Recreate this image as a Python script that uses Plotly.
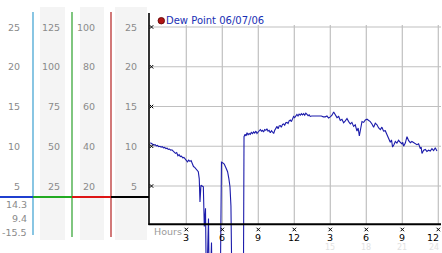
import plotly.graph_objects as go

# ---------------- data ----------------
SERIES_NAME = "Dew Point 06/07/06"
hours = [
    0.00, 0.10, 0.20, 0.30, 0.40, 0.50, 0.60, 0.70, 0.80, 0.90, 1.00, 1.10, 1.20, 1.30,
    1.40, 1.50, 1.60, 1.70, 1.80, 1.90, 2.00, 2.10, 2.20, 2.30, 2.40, 2.50, 2.60, 2.70,
    2.80, 2.90, 3.00, 3.10, 3.20, 3.30, 3.40, 3.50, 3.60, 3.70, 3.80, 3.90, 4.00,
    4.08, 4.14, 4.22, 4.42, 4.50, 4.60, 4.68, 4.85, 4.93, 5.10, 5.20, 5.50, 5.80, 5.93,
    6.05, 6.16, 6.30, 6.44, 6.55, 6.64, 6.72, 6.82, 7.30, 7.75,
    7.81, 7.90, 7.98, 8.06, 8.15, 8.24, 8.33, 8.42, 8.52, 8.61, 8.70, 8.80, 8.89, 8.98,
    9.08, 9.17, 9.26, 9.35, 9.44, 9.53, 9.63, 9.72, 9.81, 9.90, 10.00, 10.10, 10.19,
    10.28, 10.37, 10.47, 10.56, 10.65, 10.74, 10.83, 10.92, 11.02, 11.11, 11.20, 11.29,
    11.39, 11.48, 11.57, 11.67, 11.76, 11.85, 11.94, 12.03, 12.13, 12.22, 12.31, 12.40,
    12.50, 12.59, 12.68, 12.78, 12.87, 12.96, 13.06, 13.15, 13.24, 13.33, 13.45, 13.58,
    13.75, 13.92, 14.10, 14.25, 14.42, 14.58, 14.72, 14.86, 15.00, 15.14, 15.28, 15.42,
    15.56, 15.70, 15.83, 15.97, 16.11, 16.25, 16.39, 16.53, 16.67, 16.80, 16.94, 17.08,
    17.22, 17.32, 17.42, 17.53, 17.64, 17.78, 17.92, 18.06, 18.20, 18.33, 18.47, 18.61,
    18.75, 18.89, 19.03, 19.17, 19.30, 19.44, 19.58, 19.72, 19.86, 20.00, 20.10, 20.19,
    20.30, 20.42, 20.55, 20.69, 20.83, 20.97, 21.04, 21.11, 21.25, 21.39, 21.53, 21.67,
    21.80, 21.94, 22.08, 22.22, 22.36, 22.50, 22.57, 22.64, 22.78, 22.92, 23.05, 23.19,
    23.33, 23.47, 23.61, 23.75, 23.82, 23.89,
]
dew_point = [
    10.45, 10.35, 10.25, 10.15, 10.2, 10.05, 10.1, 9.95, 10.0, 9.9, 9.95, 9.8, 9.85, 9.7,
    9.75, 9.6, 9.65, 9.5, 9.55, 9.4, 9.3, 9.1, 9.2, 8.8, 8.95, 8.7, 8.75, 8.55,
    8.6, 8.45, 8.2, 8.05, 8.25, 8.1, 8.2, 7.7, 7.45, 7.35, 7.2, 7.0, 6.8,
    5.9, 3.0, 5.1, 4.9, -0.1, 2.2, -9.0, 0.9, -11.0, -2.1, -13.0, -15.5, -13.0, 8.0,
    7.9, 7.75, 7.3, 6.8, 5.9, 4.9, 2.5, -10.0, -13.0, -11.0,
    11.2, 11.5, 11.3, 11.7, 11.45, 11.6, 11.5, 11.75, 11.6, 11.8, 11.65, 11.9, 11.6, 11.85,
    11.95, 12.1, 11.9, 12.0, 11.8, 12.1, 12.0, 12.2, 11.9, 12.0, 11.7, 11.95, 11.75,
    11.6, 12.0, 12.2, 12.5, 12.2, 12.55, 12.6, 12.4, 12.75, 12.8, 12.65, 12.95,
    13.0, 12.85, 13.2, 13.3, 13.1, 13.5, 13.75, 13.6, 13.85, 14.0, 13.8, 14.05,
    13.9, 14.1, 13.95, 14.1, 13.9, 14.15, 14.0, 13.85, 13.95, 13.75, 13.8, 13.8,
    13.75, 13.75, 13.8, 13.8, 13.7, 13.7, 13.8, 13.55, 13.7, 13.9, 14.3, 13.85,
    13.6, 13.75, 13.25, 13.4, 12.95, 13.2, 13.5, 13.1, 12.8, 13.0, 12.5, 12.7,
    11.9, 12.3, 11.3, 12.2, 13.1, 13.0, 13.3, 13.4, 13.25, 13.1, 12.8, 12.4,
    12.9, 12.7, 12.3, 12.1, 12.4, 11.9, 11.95, 11.4, 11.1, 10.5, 10.8, 9.9,
    10.2, 10.6, 10.4, 10.75, 10.5, 10.3, 10.5, 10.0, 10.4, 11.2, 10.7, 10.45,
    10.6, 10.5, 10.35, 10.2, 10.3, 9.7, 9.9, 9.1, 9.5, 9.6, 9.35, 9.5,
    9.4, 9.7, 9.45, 9.8, 9.6, 9.4,
]
x_tick_vals = [3, 6, 9, 12, 15, 18, 21, 24]
x_tick_text = ["3", "6", "9", "12", "3", "6", "9", "12"]
x_24h_vals = [15, 18, 21, 24]
x_24h_text = ["15", "18", "21", "24"]
y_grid_vals = [5, 10, 15, 20, 25]
col1_labels = ["5", "10", "15", "20", "25"]
col2_labels = ["25", "50", "75", "100", "125"]
col3_labels = ["20", "40", "60", "80", "100"]
col4_labels = ["5", "10", "15", "20", "25"]

# ---------------- layout helpers ----------------
W, H = 442, 253
FONT = "DejaVu Sans"
Y0_PX, Y_PX_PER = 225.75, 7.95      # pixel of value 0, pixels per unit
X0_PX, X_PX_PER = 150.3, 12.0       # pixel of hour 0, pixels per hour


def pxx(x):
    return x / W


def pxy(y):
    return 1 - y / H


def val_at(ypix):
    return (Y0_PX - ypix) / Y_PX_PER


def hr_at(xpix):
    return (xpix - X0_PX) / X_PX_PER


y_range = [val_at(H), val_at(0)]
x_range = [hr_at(149), hr_at(W)]
x_last = max(x_tick_vals)

fig = go.Figure()

fig.add_trace(go.Scatter(
    x=hours, y=dew_point, mode="lines",
    line=dict(color="#1c1cab", width=1.1), hoverinfo="skip", showlegend=False,
))

shapes = []
# left panel stripes
for x0, x1 in [(40, 65), (80, 104), (115, 147)]:
    shapes.append(dict(type="rect", xref="paper", yref="paper", x0=pxx(x0), x1=pxx(x1),
                       y0=pxy(240), y1=pxy(7), fillcolor="#f4f4f4", line_width=0, layer="below"))
# colored vertical lines
for xp, col, yb in [(33, "#3a9fd0", 235), (72, "#2aa02a", 237), (111, "#b42020", 237)]:
    shapes.append(dict(type="line", xref="paper", yref="paper", x0=pxx(xp), x1=pxx(xp),
                       y0=pxy(yb), y1=pxy(12), line=dict(color=col, width=1.2)))
# colored horizontal bar
for x0, x1, col in [(0, 33, "#1f3fcf"), (33, 72, "#22aa22"), (72, 111, "#dd1515"), (111, 149, "#000000")]:
    shapes.append(dict(type="line", xref="paper", yref="paper", x0=pxx(x0), x1=pxx(x1),
                       y0=pxy(197), y1=pxy(197), line=dict(color=col, width=2.2)))
# grid
for v in y_grid_vals:
    shapes.append(dict(type="line", xref="x", yref="y", x0=x_range[0], x1=hr_at(441),
                       y0=v, y1=v, line=dict(color="#c0c0c0", width=1.2), layer="below"))
for h in x_tick_vals:
    shapes.append(dict(type="line", xref="x", yref="y", x0=h, x1=h,
                       y0=val_at(224), y1=val_at(25), line=dict(color="#c0c0c0", width=1.2), layer="below"))
# axes lines
shapes.append(dict(type="line", xref="paper", yref="paper", x0=pxx(149), x1=pxx(149),
                   y0=pxy(225), y1=pxy(13), line=dict(color="black", width=1.6)))
shapes.append(dict(type="line", xref="paper", yref="paper", x0=pxx(148.5), x1=pxx(441),
                   y0=pxy(224.3), y1=pxy(224.3), line=dict(color="black", width=2)))

annotations = []
LBL = dict(family=FONT, size=9.5, color="#8a8a8a")
for labels, xr in [(col1_labels, 20.5), (col2_labels, 60.5), (col3_labels, 95.5), (col4_labels, 137.5)]:
    for v, t in zip(y_grid_vals, labels):
        annotations.append(dict(text=t, xref="paper", yref="y", x=pxx(xr), y=v,
                                xanchor="right", yanchor="middle", showarrow=False,
                                font=LBL, borderpad=0))
# stats under the bar: max, current, min
stats = [f"{max(dew_point):.1f}", f"{dew_point[-1]:.1f}", f"{min(dew_point):.1f}"]
for t, yp in zip(stats, [204, 218.5, 232]):
    annotations.append(dict(text=t, xref="paper", yref="paper", x=pxx(27.5), y=pxy(yp),
                            xanchor="right", yanchor="middle", showarrow=False,
                            font=LBL, borderpad=0))


def tick_anchor(h):
    # last label is pulled inside the right edge
    if h == x_last:
        return dict(xref="paper", x=pxx(440), xanchor="right")
    return dict(xref="x", x=h, xanchor="center")


# x tick labels
for h, t in zip(x_tick_vals, x_tick_text):
    annotations.append(dict(text=t, yref="y", y=val_at(237.5), yanchor="middle",
                            showarrow=False, font=dict(family=FONT, size=9.5, color="black"),
                            borderpad=0, **tick_anchor(h)))
for h, t in zip(x_24h_vals, x_24h_text):
    annotations.append(dict(text=t, yref="y", y=val_at(247.5), yanchor="middle",
                            showarrow=False, font=dict(family=FONT, size=8, color="#e2e2e2"),
                            borderpad=0, **tick_anchor(h)))
annotations.append(dict(text="Hours", xref="x", yref="y", x=hr_at(152.5), y=val_at(231.5),
                        xanchor="left", yanchor="middle", showarrow=False,
                        font=dict(family=FONT, size=9.5, color="#9a9a9a"), borderpad=0))
# legend
annotations.append(dict(text=SERIES_NAME, xref="paper", yref="paper", x=pxx(164.5), y=pxy(20.7),
                        xanchor="left", yanchor="middle", showarrow=False,
                        font=dict(family=FONT, size=10, color="#1a30b4"), borderpad=0))

# small tick glyphs
GLYPH = dict(symbol="x-thin-open", size=3.5, color="black", line=dict(color="black", width=1))
fig.add_trace(go.Scatter(
    x=[hr_at(151.5)] * len(y_grid_vals), y=y_grid_vals, mode="markers", marker=GLYPH,
    hoverinfo="skip", showlegend=False, cliponaxis=False))
fig.add_trace(go.Scatter(
    x=x_tick_vals, y=[val_at(229.5)] * len(x_tick_vals), mode="markers", marker=GLYPH,
    hoverinfo="skip", showlegend=False, cliponaxis=False))
# legend dot
fig.add_trace(go.Scatter(
    x=[hr_at(161.3)], y=[val_at(20.7)], mode="markers",
    marker=dict(symbol="circle", size=6.5, color="#b01414", line=dict(color="#5a0000", width=0.8)),
    hoverinfo="skip", showlegend=False, cliponaxis=False))

fig.update_layout(
    width=W, height=H, margin=dict(l=0, r=0, t=0, b=0),
    paper_bgcolor="white", plot_bgcolor="white",
    showlegend=False, shapes=shapes, annotations=annotations,
    xaxis=dict(domain=[pxx(149), 1], range=x_range, visible=False, fixedrange=True),
    yaxis=dict(domain=[0, 1], range=y_range, visible=False, fixedrange=True),
)

fig.write_html("out.html", config={"displayModeBar": False})
